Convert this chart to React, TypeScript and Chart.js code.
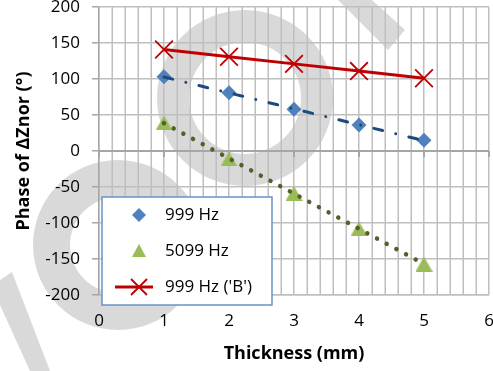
import React, { useEffect, useRef } from 'react';
import { Chart, registerables } from 'chart.js';

Chart.register(...registerables);

// ---- data ----
const thickness = [1, 2, 3, 4, 5];
const phase999 = [103, 81, 58, 36, 15];
const phase5099 = [39, -11, -59, -108, -157];
const phase999B = [141, 131, 121, 111, 101];
const seriesNames = ['999 Hz', '5099 Hz', "999 Hz ('B')"];
const xTitle = 'Thickness (mm)';
const yTitle = 'Phase of ΔZnor (°)';
const xMin = 0;
const xMax = 6;
const xStep = 1;
const xGridStep = 0.2;
const yMin = -200;
const yMax = 200;
const yStep = 50;

const FONT = "'Open Sans', 'DejaVu Sans', sans-serif";
const BLUE = '#4F81BD';
const GREEN = '#9BBB59';
const RED = '#C00000';
const BLUE_TREND = '#1F497D';
const GREEN_TREND = '#4F6228';
const GRID = '#BFBFBF';
const AXIS = '#A6A6A6';

function linFit(xs: number[], ys: number[]) {
  const n = xs.length;
  const mx = xs.reduce((a, b) => a + b, 0) / n;
  const my = ys.reduce((a, b) => a + b, 0) / n;
  let sxy = 0;
  let sxx = 0;
  for (let i = 0; i < n; i++) {
    sxy += (xs[i] - mx) * (ys[i] - my);
    sxx += (xs[i] - mx) * (xs[i] - mx);
  }
  const b = sxy / sxx;
  const a = my - b * mx;
  return (x: number) => a + b * x;
}

function trendPoints(xs: number[], ys: number[]) {
  const f = linFit(xs, ys);
  const x0 = Math.min(...xs);
  const x1 = Math.max(...xs);
  return [
    { x: x0, y: f(x0) },
    { x: x1, y: f(x1) },
  ];
}

function pts(xs: number[], ys: number[]) {
  return xs.map((x, i) => ({ x, y: ys[i] }));
}

function makeTriangle(w: number, h: number, color: string) {
  const c = document.createElement('canvas');
  c.width = w;
  c.height = h;
  const g = c.getContext('2d')!;
  g.fillStyle = color;
  g.beginPath();
  g.moveTo(w / 2, 0);
  g.lineTo(w, h);
  g.lineTo(0, h);
  g.closePath();
  g.fill();
  return c;
}

function drawDiamond(ctx: CanvasRenderingContext2D, x: number, y: number, r: number, color: string) {
  ctx.fillStyle = color;
  ctx.beginPath();
  ctx.moveTo(x, y - r);
  ctx.lineTo(x + r, y);
  ctx.lineTo(x, y + r);
  ctx.lineTo(x - r, y);
  ctx.closePath();
  ctx.fill();
}

const watermarkPlugin = {
  id: 'watermark',
  beforeDraw(chart: any) {
    const ctx = chart.ctx as CanvasRenderingContext2D;
    ctx.save();
    ctx.fillStyle = '#D9D9D9';
    ctx.beginPath();
    ctx.arc(245, 98, 88, 0, Math.PI * 2);
    ctx.arc(245, 98, 56, 0, Math.PI * 2, true);
    ctx.fill();
    ctx.beginPath();
    ctx.arc(118, 245, 85, 0, Math.PI * 2);
    ctx.arc(118, 245, 48, 0, Math.PI * 2, true);
    ctx.fill();
    ctx.beginPath();
    ctx.moveTo(338, 0);
    ctx.lineTo(372, 0);
    ctx.lineTo(405, 30);
    ctx.lineTo(388, 50);
    ctx.closePath();
    ctx.fill();
    ctx.beginPath();
    ctx.moveTo(0, 280);
    ctx.lineTo(12, 272);
    ctx.lineTo(50, 371);
    ctx.lineTo(30, 371);
    ctx.lineTo(0, 305);
    ctx.closePath();
    ctx.fill();
    ctx.restore();
  },
};

const gridExtrasPlugin = {
  id: 'gridExtras',
  beforeDatasetsDraw(chart: any) {
    const { ctx, scales, chartArea } = chart;
    const xs = scales.x;
    const ys = scales.y;
    ctx.save();
    // minor vertical grid lines
    ctx.strokeStyle = GRID;
    ctx.lineWidth = 1.5;
    ctx.beginPath();
    const n = Math.round((xMax - xMin) / xGridStep);
    for (let i = 0; i <= n; i++) {
      const v = xMin + i * xGridStep;
      if (Math.abs(v / xStep - Math.round(v / xStep)) < 1e-6) continue;
      const px = Math.round(xs.getPixelForValue(v)) + 0.25;
      ctx.moveTo(px, chartArea.top);
      ctx.lineTo(px, chartArea.bottom);
    }
    ctx.stroke();
    // horizontal axis crossing at 0 with tick marks
    const y0 = ys.getPixelForValue(0);
    ctx.strokeStyle = AXIS;
    ctx.lineWidth = 2;
    ctx.beginPath();
    ctx.moveTo(xs.left, y0);
    ctx.lineTo(xs.right, y0);
    for (let v = xMin; v <= xMax; v += xStep) {
      const px = xs.getPixelForValue(v);
      ctx.moveTo(px, y0);
      ctx.lineTo(px, y0 + 6);
    }
    ctx.stroke();

    // tick labels (from the scales' own ticks)
    ctx.fillStyle = '#000';
    ctx.font = `17px ${FONT}`;
    ctx.textBaseline = 'middle';
    ctx.textAlign = 'right';
    ys.ticks.forEach((t: any) => {
      ctx.fillText(String(t.value), chartArea.left - 19, ys.getPixelForValue(t.value));
    });
    ctx.textAlign = 'center';
    xs.ticks.forEach((t: any) => {
      ctx.fillText(String(t.value), xs.getPixelForValue(t.value), chartArea.bottom + 26);
    });
    ctx.restore();
  },
};

const legendPlugin = {
  id: 'boxLegend',
  afterDraw(chart: any) {
    const ctx = chart.ctx as CanvasRenderingContext2D;
    const left = 102;
    const top = 197;
    const w = 170;
    const h = 108;
    ctx.save();
    ctx.fillStyle = '#FFFFFF';
    ctx.fillRect(left, top, w, h);
    ctx.strokeStyle = '#6A93C9';
    ctx.lineWidth = 1.5;
    ctx.strokeRect(left, top, w, h);

    const symX = left + 37;
    const textX = left + 63;
    const rows = [top + 18, top + 54, top + 90];

    drawDiamond(ctx, symX, rows[0], 7, BLUE);
    ctx.fillStyle = GREEN;
    ctx.beginPath();
    ctx.moveTo(symX, rows[1] - 7);
    ctx.lineTo(symX + 7, rows[1] + 6);
    ctx.lineTo(symX - 7, rows[1] + 6);
    ctx.closePath();
    ctx.fill();
    ctx.strokeStyle = RED;
    ctx.lineWidth = 3;
    ctx.beginPath();
    ctx.moveTo(symX - 24, rows[2]);
    ctx.lineTo(symX + 14, rows[2]);
    ctx.stroke();
    ctx.lineWidth = 1.8;
    ctx.beginPath();
    ctx.moveTo(symX - 8, rows[2] - 8);
    ctx.lineTo(symX + 8, rows[2] + 8);
    ctx.moveTo(symX + 8, rows[2] - 8);
    ctx.lineTo(symX - 8, rows[2] + 8);
    ctx.stroke();

    ctx.fillStyle = '#000';
    ctx.font = `17px ${FONT}`;
    ctx.textBaseline = 'middle';
    ctx.textAlign = 'left';
    seriesNames.forEach((n, i) => ctx.fillText(n, textX, rows[i]));
    ctx.restore();
  },
};

export default function App() {
  const ref = useRef<HTMLCanvasElement | null>(null);

  useEffect(() => {
    if (!ref.current) return;
    const tri = makeTriangle(17, 15, GREEN);
    const chart = new Chart(ref.current, {
      type: 'scatter',
      data: {
        datasets: [
          {
            label: seriesNames[0] + ' trend',
            data: trendPoints(thickness, phase999),
            showLine: true,
            borderColor: BLUE_TREND,
            borderWidth: 3,
            borderDash: [9, 13.5, 0.01, 13.5],
            borderCapStyle: 'round',
            pointRadius: 0,
          },
          {
            label: seriesNames[1] + ' trend',
            data: trendPoints(thickness, phase5099),
            showLine: true,
            borderColor: GREEN_TREND,
            borderWidth: 4.5,
            borderDash: [0.01, 11],
            borderCapStyle: 'round',
            pointRadius: 0,
          },
          {
            label: seriesNames[2],
            data: pts(thickness, phase999B),
            showLine: true,
            borderColor: RED,
            borderWidth: 3,
            pointStyle: 'crossRot',
            pointRadius: 12.5,
            pointBorderWidth: 1.8,
            pointBorderColor: RED,
            pointBackgroundColor: RED,
          },
          {
            label: seriesNames[0],
            data: pts(thickness, phase999),
            pointStyle: 'rectRot',
            pointRadius: 7.5,
            pointBackgroundColor: BLUE,
            pointBorderColor: BLUE,
            pointBorderWidth: 0,
          },
          {
            label: seriesNames[1],
            data: pts(thickness, phase5099),
            pointStyle: tri as any,
            pointRadius: 8,
            pointBackgroundColor: GREEN,
            pointBorderColor: GREEN,
          },
        ],
      },
      options: {
        responsive: false,
        animation: false,
        layout: { autoPadding: false, padding: { left: 0, right: 4, top: 7, bottom: 0 } },
        plugins: {
          legend: { display: false },
          tooltip: { enabled: false },
        },
        scales: {
          x: {
            type: 'linear',
            position: 'bottom',
            min: xMin,
            max: xMax,
            ticks: { display: false, stepSize: xStep },
            grid: { color: GRID, lineWidth: 1.5, drawTicks: false },
            border: { display: true, color: GRID, width: 1.5 },
            title: {
              display: true,
              text: xTitle,
              color: '#000',
              font: { family: FONT, size: 18, weight: 'bold' },
              padding: { top: 48.4, bottom: 6 },
            },
          },
          y: {
            type: 'linear',
            min: yMin,
            max: yMax,
            ticks: { display: false, stepSize: yStep },
            grid: { color: GRID, lineWidth: 1.5, tickLength: 7, tickColor: AXIS },
            border: { display: true, color: AXIS, width: 1.5 },
            title: {
              display: true,
              text: yTitle,
              color: '#000',
              font: { family: FONT, size: 18, weight: 'bold' },
              padding: { top: 13.2, bottom: 57.2 },
            },
          },
        },
      } as any,
      plugins: [watermarkPlugin, gridExtrasPlugin, legendPlugin],
    });
    return () => chart.destroy();
  }, []);

  return (
    <div style={{ position: 'fixed', left: 0, top: 0, width: 493, height: 371, background: '#fff' }}>
      <canvas ref={ref} width={493} height={371} style={{ display: 'block' }} />
    </div>
  );
}
